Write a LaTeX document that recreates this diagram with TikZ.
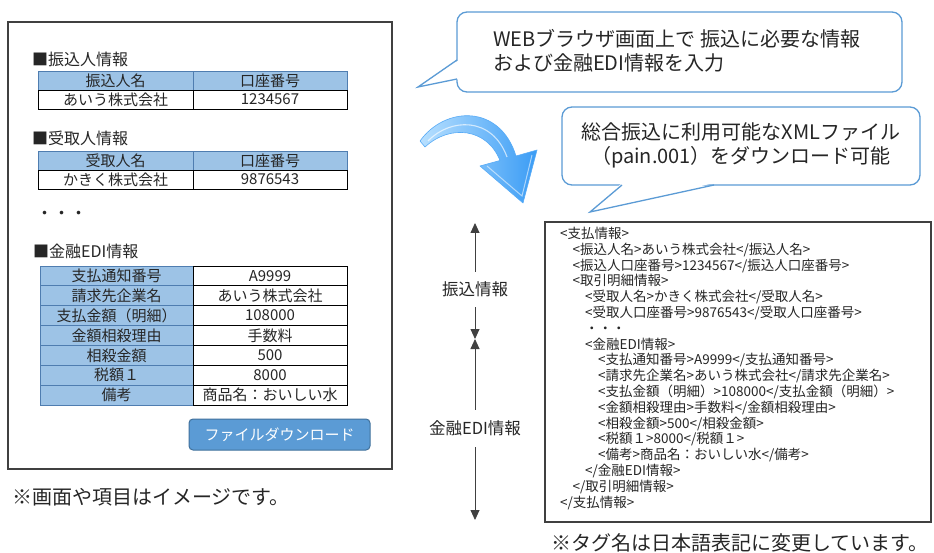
\documentclass[tikz,border=0pt]{standalone}
\usepackage{fontspec}
\setmainfont{Noto Sans CJK JP}
\usetikzlibrary{arrows.meta}
\definecolor{hdrfill}{HTML}{9DC3E6}
\definecolor{hdrline}{HTML}{4F7DB0}
\definecolor{cblue}{HTML}{5B9BD5}
\definecolor{btnfill}{HTML}{5B9BD5}
\definecolor{btnline}{HTML}{41719C}
\definecolor{framec}{HTML}{404040}
\definecolor{arlight}{HTML}{B8E0FF}
\definecolor{ardark}{HTML}{3A9CF5}
\definecolor{txt}{HTML}{262626}
\begin{document}
\begin{tikzpicture}[x=1pt,y=-1pt,
  panel/.style={draw=framec, line width=1.2pt, fill=white, inner sep=0, outer sep=0},
  sec/.style={anchor=west, inner sep=0, text=txt, font=\fontsize{16}{19}\selectfont},
  hcell/.style={draw=hdrline, fill=hdrfill, line width=0.9pt, minimum height=19pt, inner sep=0, outer sep=0, text=txt, font=\fontsize{15}{18}\selectfont},
  dcell/.style={draw=black, fill=white, line width=0.9pt, minimum height=19pt, inner sep=0, outer sep=0, text=txt, font=\fontsize{15}{18}\selectfont},
  btn/.style={draw=btnline, fill=btnfill, line width=1pt, rounded corners=4pt, minimum width=181pt, minimum height=31pt, text=white, font=\fontsize{15}{18}\selectfont},
  callout/.style={draw=cblue, fill=white, line width=1.3pt, rounded corners=10pt, inner sep=0},
  ctext/.style={inner sep=0, text=txt, font=\fontsize{20}{24}\selectfont},
  xl/.style={anchor=west, inner sep=0, text=txt, text height=10pt, text depth=3pt, font=\fontsize{13.5}{16}\selectfont},
  vlabel/.style={inner sep=0, minimum height=35pt, text=txt, font=\fontsize{16.5}{19}\selectfont},
  varrow/.style={draw=framec, line width=0.9pt, -{Triangle[length=10pt,width=9pt]}},
  note/.style={anchor=west, inner sep=0, text=txt, font=\fontsize{20}{24}\selectfont}
]
\useasboundingbox (0,0) rectangle (934,553);

% ---------- left panel ----------
\node[panel, minimum width=384pt, minimum height=447pt] (scr) at (200,245.5) {};

\node[sec] (s1) at (32,59) {■振込人情報};
\node[hcell, minimum width=155pt] (t1h1) at (115.5,80.5) {振込人名};
\node[hcell, minimum width=154pt] (t1h2) at (270,80.5) {口座番号};
\node[dcell, minimum width=155pt] (t1d1) at (115.5,99.5) {あいう株式会社};
\node[dcell, minimum width=154pt] (t1d2) at (270,99.5) {1234567};

\node[sec] (s2) at (32,138) {■受取人情報};
\node[hcell, minimum width=155pt] (t2h1) at (115.5,160.5) {受取人名};
\node[hcell, minimum width=154pt] (t2h2) at (270,160.5) {口座番号};
\node[dcell, minimum width=155pt] (t2d1) at (115.5,179.5) {かきく株式会社};
\node[dcell, minimum width=154pt] (t2d2) at (270,179.5) {9876543};

\node[anchor=west, inner sep=0, text=txt, font=\fontsize{17}{20}\selectfont] (dots1) at (36,215) {・・・};

\node[sec] (s3) at (33,251) {■金融EDI情報};
\foreach \i/\l/\r in {1/支払通知番号/A9999, 2/請求先企業名/あいう株式会社, 3/支払金額（明細）/108000, 4/金額相殺理由/手数料, 5/相殺金額/500, 6/税額１/8000, 7/備考/商品名：おいしい水}{
  \node[hcell, minimum width=153pt, minimum height=19.86pt] (el\i) at (116.5,{266+19.857*(\i-0.5)}) {\l};
  \node[dcell, minimum width=154pt, minimum height=19.86pt] (er\i) at (270,{266+19.857*(\i-0.5)}) {\r};
}

\node[btn] (btn) at (279.5,434.5) {ファイルダウンロード};

\node[note] (note1) at (12,497) {※画面や項目はイメージです。};

% ---------- callouts ----------
\node[callout, minimum width=445pt, minimum height=80pt] (c1) at (679.5,52) {};
\fill[white] (459,60) -- (418,87) -- (460,79) -- cycle;
\draw[cblue, line width=1.3pt, line join=miter] (457,60) -- (418,87) -- (457,79);
\node[ctext, anchor=west, align=left] (c1t) at (493,51) {WEBブラウザ画面上で 振込に必要な情報\\および金融EDI情報を入力};

\node[callout, minimum width=358pt, minimum height=78pt] (c2) at (741,146) {};
\fill[white] (622,183) -- (590,212) -- (714,183) -- cycle;
\draw[cblue, line width=1.3pt, line join=miter] (622,185) -- (590,212) -- (714,185);
\node[ctext, align=center] (c2t) at (741,145) {総合振込に利用可能なXMLファイル\\（pain.001）をダウンロード可能};

% ---------- curved arrow ----------
\shadedraw[left color=arlight, right color=ardark, draw=ardark!85!white, line width=0.6pt, line join=round]
  (420,141) .. controls (445,106) and (500,104) .. (516,156) -- (537,150) -- (523,203) -- (480,166) -- (500,160.5)
  .. controls (487,128) and (450,124) .. (425,147) -- cycle;
\draw[white, opacity=0.65, line width=1.1pt] (428,141) .. controls (450,118) and (492,116) .. (507,157);
\draw[white, opacity=0.55, line width=1pt] (487,166) -- (522,196) -- (532,155);

% ---------- vertical arrows ----------
\coordinate (ftop) at (475,223);
\coordinate (fmid) at (475,339);
\coordinate (ebot) at (475,520);
\node[vlabel] (fl) at (475,289.5) {振込情報};
\node[vlabel, minimum height=37pt] (el) at (475,428.5) {金融EDI情報};
\draw[varrow] (fl) -- (ftop);
\draw[varrow] (fl) -- (fmid);
\draw[varrow] (el) -- (fmid);
\draw[varrow] (el) -- (ebot);

% ---------- XML panel ----------
\node[panel, minimum width=386pt, minimum height=300pt] (xml) at (738,372) {};
\node[xl] (x1) at (560,235) {<支払情報>};
\node[xl] (x2) at (572.5,250.8) {<振込人名>あいう株式会社</振込人名>};
\node[xl] (x3) at (572.5,266.6) {<振込人口座番号>1234567</振込人口座番号>};
\node[xl] (x4) at (572.5,282.4) {<取引明細情報>};
\node[xl] (x5) at (585,298.2) {<受取人名>かきく株式会社</受取人名>};
\node[xl] (x6) at (585,314) {<受取人口座番号>9876543</受取人口座番号>};
\node[xl] (x7) at (585,329.8) {・・・};
\node[xl] (x8) at (585,345.6) {<金融EDI情報>};
\node[xl] (x9) at (598,361.4) {<支払通知番号>A9999</支払通知番号>};
\node[xl] (x10) at (598,377.2) {<請求先企業名>あいう株式会社</請求先企業名>};
\node[xl] (x11) at (598,393) {<支払金額（明細）>108000</支払金額（明細）>};
\node[xl] (x12) at (598,408.8) {<金額相殺理由>手数料</金額相殺理由>};
\node[xl] (x13) at (598,424.6) {<相殺金額>500</相殺金額>};
\node[xl] (x14) at (598,440.4) {<税額１>8000</税額１>};
\node[xl] (x15) at (598,456.2) {<備考>商品名：おいしい水</備考>};
\node[xl] (x16) at (585,472) {</金融EDI情報>};
\node[xl] (x17) at (572.5,487.8) {</取引明細情報>};
\node[xl] (x18) at (560,503.6) {</支払情報>};

\node[note] (note2) at (551,543) {※タグ名は日本語表記に変更しています。};
\end{tikzpicture}
\end{document}
